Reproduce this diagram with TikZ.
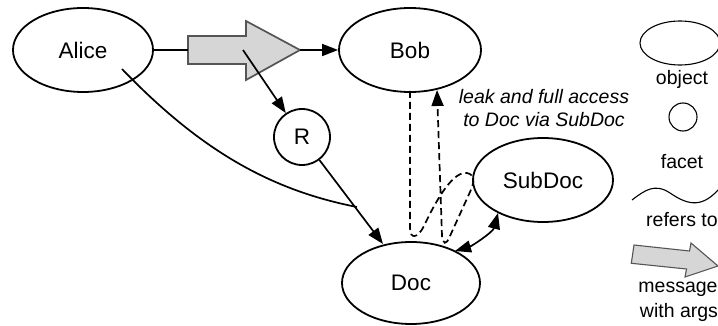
\documentclass[tikz,border=0pt]{standalone}
\usepackage{fontspec}
\setmainfont{Liberation Sans}
\usetikzlibrary{shapes.geometric,arrows.meta}
\definecolor{msgfill}{HTML}{D6D6D6}
\definecolor{msgdraw}{HTML}{555555}
\tikzset{
  obj/.style={draw, ellipse, line width=1.8pt, inner sep=0pt, font=\fontsize{22.5}{26}\selectfont},
  fac/.style={draw, circle, line width=1.8pt, inner sep=0pt, minimum size=56pt, font=\fontsize{22.5}{26}\selectfont},
  conn/.style={line width=1.7pt},
  arr/.style={conn, -{Triangle[length=16pt,width=12pt]}},
  darr/.style={conn, {Triangle[length=16pt,width=12pt]}-{Triangle[length=16pt,width=12pt]}},
  dsh/.style={conn, dash pattern=on 7pt off 4pt},
  msg/.style={fill=msgfill, draw=msgdraw, line width=1.7pt, line join=miter},
  lbl/.style={font=\fontsize{19.5}{22}\selectfont, inner sep=0pt},
  leg/.style={draw, line width=1.1pt},
}
\begin{document}
\begin{tikzpicture}[x=1pt,y=-1pt]
\useasboundingbox (0,0) rectangle (718,326);
\begin{scope}
\clip (0,0) rectangle (718,326);
% nodes
\node[obj, minimum width=140pt, minimum height=84pt] (Alice) at (83,50) {Alice};
\node[obj, minimum width=142pt, minimum height=84pt] (Bob) at (410,50) {Bob};
\node[fac] (R) at (302,137) {R};
\node[obj, minimum width=138pt, minimum height=82pt] (Doc) at (411,283) {Doc};
\node[obj, minimum width=140pt, minimum height=84pt] (SubDoc) at (543,180) {SubDoc};

% message arrow
\draw[msg] (188,36) -- (246,36) -- (246,21) -- (300,50) -- (246,80) -- (246,64) -- (188,64) -- cycle;
\coordinate (msgtail) at (188,50);
\coordinate (msgtip) at (300,50);
\coordinate (msgc) at (243,50);
\draw[conn] (Alice.east) -- (msgtail);
\draw[arr] (msgtip) -- (Bob.west);
\draw[arr] (msgc) -- (R);

% R to Doc, Alice curve
\coordinate (dtop) at (383,244);
\coordinate (a1) at (122,69);
\coordinate (j) at (357,207);
\draw[arr] (R) -- (dtop);
\draw[conn] (a1) .. controls (200,150) and (270,190) .. (j);

% dashed leak path
\coordinate (b1) at (410,91);
\coordinate (b2) at (437,90);
\draw[dsh, -{Triangle[length=16pt,width=12pt]}] (b1) -- (410,228)
  .. controls (410,240) and (418,238) .. (424,226)
  .. controls (438,196) and (454,171) .. (467,173)
  .. controls (476,175) and (474,183) .. (470,192)
  -- (450,236)
  .. controls (446,246) and (443,244) .. (442,236)
  -- (b2);

% double arrow
\coordinate (d1) at (455,251);
\coordinate (s1) at (498,213);
\draw[darr] (d1) .. controls (472,246) and (493,232) .. (s1);

% label
\node[lbl, align=center, font=\fontsize{19.5}{22.5}\selectfont\itshape] (leak) at (544,108) {leak and full access\\to Doc via SubDoc};

% legend
\node[leg, ellipse, minimum width=80pt, minimum height=44pt, inner sep=0pt] (legobj) at (680,43) {};
\node[lbl] (legobjt) at (682,79) {object};
\node[leg, circle, minimum size=28pt, inner sep=0pt] (legfac) at (683,117) {};
\node[lbl] (legfact) at (682,162) {facet};
\draw[line width=1.1pt] (632,200) .. controls (645,190) and (655,183) .. (670,193) .. controls (685,203) and (700,210) .. (718,190);
\node[lbl] (legref) at (682,220) {refers to};
\draw[fill=msgfill, draw=msgdraw, line width=1.1pt] (634,245) -- (689.5,251) -- (691,243) -- (718,266) -- (685,277) -- (686.5,269) -- (631.3,263.3) -- cycle;
\node[lbl] (legmsg) at (678,289) {message};
\node[lbl] (legargs) at (679,312) {with args};
\end{scope}
\end{tikzpicture}
\end{document}
